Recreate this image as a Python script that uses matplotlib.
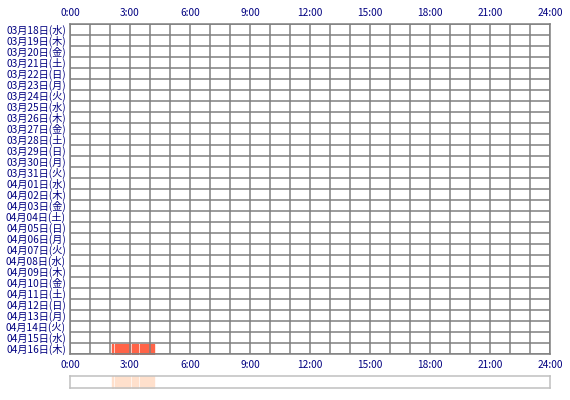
import matplotlib
matplotlib.use("Agg")
import matplotlib.pyplot as plt

plt.rcParams['font.family'] = ['Noto Sans CJK JP', 'DejaVu Sans']

# one label per row (2020-03-18 .. 2020-04-16)
day_labels = [
    "03月18日(水)", "03月19日(木)", "03月20日(金)", "03月21日(土)", "03月22日(日)",
    "03月23日(月)", "03月24日(火)", "03月25日(水)", "03月26日(木)", "03月27日(金)",
    "03月28日(土)", "03月29日(日)", "03月30日(月)", "03月31日(火)", "04月01日(水)",
    "04月02日(木)", "04月03日(金)", "04月04日(土)", "04月05日(日)", "04月06日(月)",
    "04月07日(火)", "04月08日(水)", "04月09日(木)", "04月10日(金)", "04月11日(土)",
    "04月12日(日)", "04月13日(月)", "04月14日(火)", "04月15日(水)", "04月16日(木)",
]
hour_ticks = [0, 3, 6, 9, 12, 15, 18, 21, 24]
hour_labels = ["0:00", "3:00", "6:00", "9:00", "12:00", "15:00", "18:00", "21:00", "24:00"]

# active periods: (row index, start hour, end hour)
act_row = [29, 29, 29, 29]
act_start = [2.10, 2.23, 3.10, 3.50]
act_end = [2.14, 3.00, 3.40, 4.22]

txt = "#000080"
fig = plt.figure(figsize=(5.7, 4.0), dpi=100)
ax = fig.add_axes([70 / 570, 1 - 354 / 400, 480 / 570, 330 / 400])

n = len(day_labels)
ax.set_xlim(0, 24)
ax.set_ylim(n, 0)

for r, s, e in zip(act_row, act_start, act_end):
    ax.broken_barh([(s, e - s)], (r + 0.08, 0.92), color="#ff6347", zorder=1)

ax.xaxis.remove_overlapping_locs = False
ax.set_xticks(hour_ticks)
ax.set_xticks(range(25), minor=True)
ax.set_xticklabels(hour_labels)
ax.set_yticks([i + 0.5 for i in range(n)])
ax.set_yticks(range(n + 1), minor=True)
ax.set_yticklabels(day_labels)
ax.grid(True, which="minor", color="#808080", lw=1.1, zorder=2)
ax.grid(False, which="major")
ax.set_axisbelow(False)
ax.tick_params(which="both", length=0, colors=txt, labelsize=7.3,
               labeltop=True, labelbottom=True, pad=3)
ax.tick_params(axis="x", pad=4)
for sp in ax.spines.values():
    sp.set_color("#808080")
    sp.set_linewidth(1.1)

# summary strip
ax2 = fig.add_axes([70 / 570, 1 - 388 / 400, 480 / 570, 12 / 400])
ax2.set_xlim(0, 24)
ax2.set_ylim(0, 1)
for s, e in zip(act_start, act_end):
    ax2.broken_barh([(s, e - s)], (0, 1), color="#ffe0cc")
ax2.set_xticks([])
ax2.set_yticks([])
for sp in ax2.spines.values():
    sp.set_color("#c0c0c0")
    sp.set_linewidth(1.1)

fig.savefig("out.png", dpi=100)
